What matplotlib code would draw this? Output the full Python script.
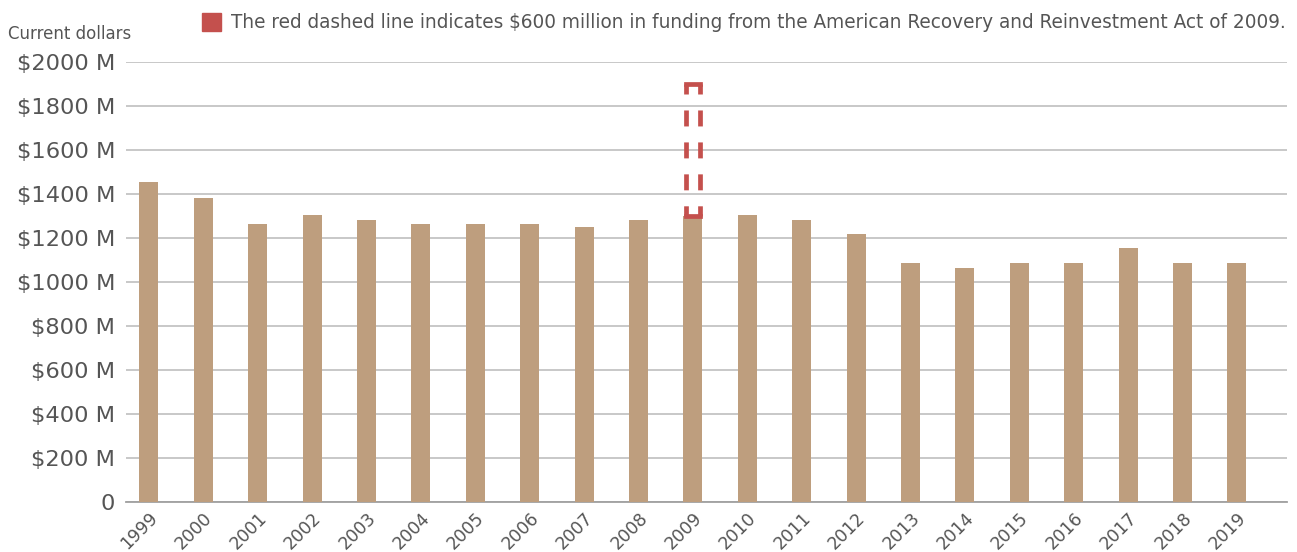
import matplotlib
matplotlib.use("Agg")
import matplotlib.pyplot as plt
from matplotlib.patches import Rectangle

years = [str(y) for y in range(1999, 2020)]
funding = [1455, 1380, 1265, 1305, 1280, 1265, 1265, 1265, 1250, 1280,
           1300, 1305, 1280, 1220, 1085, 1065, 1085, 1085, 1155, 1085, 1085]
arra_year = "2009"
arra_amount = 600
yticks = [0, 200, 400, 600, 800, 1000, 1200, 1400, 1600, 1800, 2000]
ytick_labels = ["0"] + [f"${v} M" for v in yticks[1:]]

plt.rcParams['font.family'] = ['DejaVu Sans']
plt.rcParams['lines.scale_dashes'] = False
txt = "#555555"
bar_color = "#be9e7e"
red = "#c4504d"

fig = plt.figure(figsize=(12.97, 5.52), dpi=100)
ax = fig.add_axes([126/1297, 1 - 502/552, (1287-126)/1297, (502-62)/552])

x = list(range(len(years)))
w = 0.35
ax.bar(x, funding, width=w, color=bar_color, zorder=3)

i = years.index(arra_year)
base = funding[i]
top = base + arra_amount
lw = 3.4
xl, xr = i - w/2 + 0.04, i + w/2 - 0.04
for xv in (xl, xr):
    ax.plot([xv, xv], [top, base], color=red, linewidth=lw,
            linestyle=(4.3, (11.5, 11.5)), solid_capstyle="butt",
            dash_capstyle="butt", zorder=4)
for yv in (top, base):
    ax.plot([xl, xr], [yv, yv], color=red, linewidth=lw,
            solid_capstyle="projecting", zorder=4)

ax.set_xlim(-0.42, 20.92)
ax.set_ylim(0, 2000)
ax.set_yticks(yticks)
ax.set_yticklabels(ytick_labels, fontsize=16.2, color=txt)
ax.set_xticks(x)
ax.set_xticklabels(years, rotation=45, ha="right", rotation_mode="anchor",
                   fontsize=12.5, color=txt)
for lab in ax.get_xticklabels():
    lab.set_x(lab.get_position()[0])
ax.tick_params(axis="both", length=0)
ax.tick_params(axis="y", pad=7.9)
ax.tick_params(axis="x", pad=5)
ax.grid(axis="y", color="#c4c4c4", linewidth=1.3, zorder=0)
for s in ["top", "right", "left"]:
    ax.spines[s].set_visible(False)
ax.spines["bottom"].set_color("#a0a0a0")
ax.spines["bottom"].set_linewidth(1.3)

fig.text(8/1297, 1 - 34/552, "Current dollars", fontsize=12, color=txt,
         ha="left", va="center")
fig.patches.append(Rectangle((202/1297, 1 - 31/552), 19/1297, 18/552,
                             transform=fig.transFigure, color=red, figure=fig))
fig.text(231/1297, 1 - 22/552,
         "The red dashed line indicates $600 million in funding from the American Recovery and Reinvestment Act of 2009.",
         fontsize=13.35, color=txt, ha="left", va="center")

fig.savefig("out.png", dpi=100)
